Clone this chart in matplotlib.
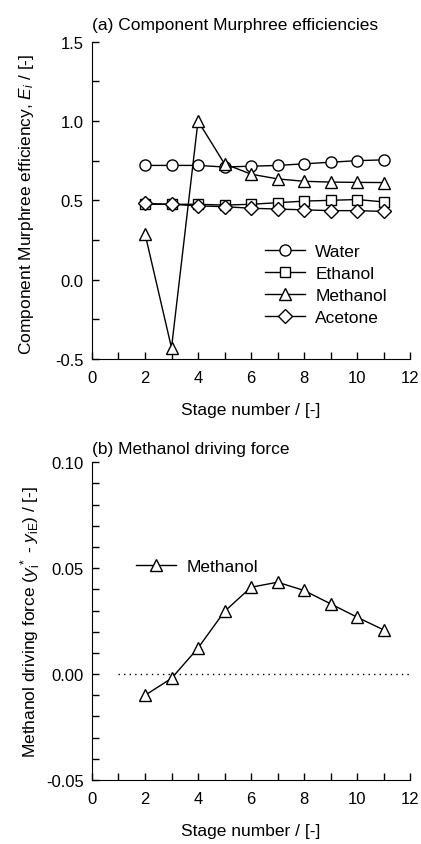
import numpy as np
import matplotlib
matplotlib.use("Agg")
from matplotlib import pyplot as plt
from matplotlib.ticker import MultipleLocator

plt.rcParams['font.family'] = ['Liberation Sans', 'DejaVu Sans']
plt.rcParams['mathtext.fontset'] = 'custom'
plt.rcParams['mathtext.rm'] = 'Liberation Sans'
plt.rcParams['mathtext.it'] = 'Liberation Sans:italic'
plt.rcParams['axes.unicode_minus'] = False
plt.rcParams['font.size'] = 12.5
plt.rcParams['xtick.labelsize'] = 12
plt.rcParams['ytick.labelsize'] = 12

stages = [2, 3, 4, 5, 6, 7, 8, 9, 10, 11]

# component Murphree efficiencies
water = [0.72, 0.72, 0.72, 0.71, 0.715, 0.72, 0.73, 0.74, 0.75, 0.755]
ethanol = [0.475, 0.475, 0.475, 0.47, 0.475, 0.485, 0.495, 0.50, 0.505, 0.49]
methanol = [0.29, -0.43, 1.0, 0.73, 0.665, 0.635, 0.62, 0.615, 0.613, 0.612]
acetone = [0.48, 0.475, 0.465, 0.46, 0.45, 0.445, 0.44, 0.435, 0.435, 0.43]

# methanol driving force y*_i - y_iE
driving_force = [-0.010, -0.002, 0.0123, 0.0296, 0.041, 0.0434, 0.0395, 0.0332, 0.0269, 0.0209]
zero_line_x = [1, 12]

fig = plt.figure(figsize=(4.21, 8.45), dpi=100)
ax1 = fig.add_axes([0.2185, 0.574, 0.7555, 0.3755])
ax2 = fig.add_axes([0.2185, 0.0757, 0.7555, 0.376])

mk = dict(color='k', lw=1.0, mfc='white', mec='k', mew=1.0)
ax1.plot(stages, water, marker='o', ms=8, label='Water', **mk)
ax1.plot(stages, ethanol, marker='s', ms=7, label='Ethanol', **mk)
ax1.plot(stages, methanol, marker='^', ms=9, label='Methanol', **mk)
ax1.plot(stages, acetone, marker='D', ms=7, label='Acetone', **mk)

ax2.hlines(0, zero_line_x[0], zero_line_x[1], colors='k', linestyles=(0, (1, 3)), lw=1.0)
ax2.plot(stages, driving_force, marker='^', ms=9, label='Methanol', **mk)

def style(ax, ylo, yhi, ymaj, ymin, fmt):
    ax.set_xlim(0, 12)
    ax.set_ylim(ylo, yhi)
    ax.xaxis.set_major_locator(MultipleLocator(2))
    ax.xaxis.set_minor_locator(MultipleLocator(1))
    ax.yaxis.set_major_locator(MultipleLocator(ymaj))
    ax.yaxis.set_minor_locator(MultipleLocator(ymin))
    ax.yaxis.set_major_formatter(fmt)
    for s in ['top', 'right']:
        ax.spines[s].set_visible(False)
    ax.tick_params(which='both', direction='in', length=5, width=1.0)
    ax.tick_params(axis='x', pad=8)
    ax.tick_params(axis='y', pad=6)
    ax.set_xlabel('Stage number / [-]')
    ax.xaxis.set_label_coords(0.5, -0.135)

style(ax1, -0.5, 1.5, 0.5, 0.25, '{x:.1f}')
style(ax2, -0.05, 0.10, 0.05, 0.01, '{x:.2f}')

ax1.set_title('(a) Component Murphree efficiencies', loc='left', fontsize=12.5, pad=9)
ax2.set_title('(b) Methanol driving force', loc='left', fontsize=12.5, pad=7)

ax1.set_ylabel('Component Murphree efficiency, $E_i$ / [-]')
ax1.yaxis.set_label_coords(-0.175, 0.49)
ax2.set_ylabel('Methanol driving force ($y^*_\\mathrm{i}$ - $y_\\mathrm{iE}$) / [-]')
ax2.yaxis.set_label_coords(-0.155, 0.5)

ax1.legend(loc='upper left', bbox_to_anchor=(0.544, 0.363), frameon=False,
           borderpad=0, borderaxespad=0, handlelength=2.3, handletextpad=0.6,
           labelspacing=0.4)
ax2.legend(loc='upper left', bbox_to_anchor=(0.138, 0.697), frameon=False,
           borderpad=0, borderaxespad=0, handlelength=2.3, handletextpad=0.6)

fig.savefig('out.png', dpi=100)
